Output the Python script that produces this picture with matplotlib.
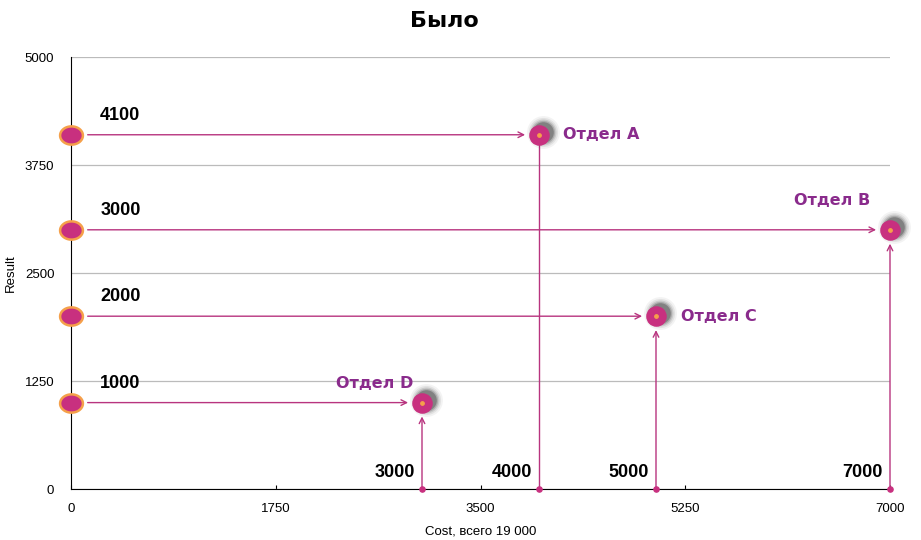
import numpy as np
import matplotlib.pyplot as plt
from matplotlib.path import Path
from matplotlib.transforms import offset_copy

# data
depts = ["Отдел D", "Отдел A", "Отдел C", "Отдел B"]
cost = [3000, 4000, 5000, 7000]
result = [1000, 4100, 2000, 3000]
x_ticks = [0, 1750, 3500, 5250, 7000]
y_ticks = [0, 1250, 2500, 3750, 5000]

MAGENTA = "#c8307f"
LINE = "#b8347f"
PURPLE = "#8a2b8c"
ORANGE = "#f5a04a"

plt.rcParams["font.family"] = ["Liberation Sans", "DejaVu Sans"]

fig = plt.figure(figsize=(9.21, 5.40), dpi=100)
ax = fig.add_axes([71 / 921, 51 / 540, 819 / 921, 432 / 540])
ax.set_xlim(0, 7000)
ax.set_ylim(0, 5000)
ax.set_xticks(x_ticks)
ax.set_yticks(y_ticks)
ax.tick_params(axis="both", labelsize=9.5, length=3, direction="in", colors="black")
ax.tick_params(axis="y", length=0, pad=12)
ax.tick_params(axis="x", pad=10)
for s in ["top", "right"]:
    ax.spines[s].set_visible(False)
ax.yaxis.grid(True, color="#bbbbbb", lw=0.9)
ax.set_axisbelow(True)

ax.set_xlabel("Cost, всего 19 000", fontsize=9.5, labelpad=8)
ax.set_ylabel("Result", fontsize=9.5, labelpad=6)
fig.text(0.482, 0.962, "Было", ha="center", va="center", fontsize=16,
         fontweight="heavy", family="DejaVu Sans")

# ellipse marker for the left side
t = np.linspace(0, 2 * np.pi, 60)
ell = Path(np.column_stack([1.25 * np.cos(t), np.sin(t)]), closed=True)

for name, x, y in zip(depts, cost, result):
    # horizontal arrow from the y axis
    ax.annotate("", xy=(x, y), xytext=(0, y),
                arrowprops=dict(arrowstyle="->", color=LINE, lw=1.0,
                                shrinkA=12, shrinkB=10, mutation_scale=10))
    # vertical line from the x axis
    if x == 4000:
        ax.plot([x, x], [0, y], color=LINE, lw=1.0, zorder=2)
    else:
        ax.annotate("", xy=(x, y), xytext=(x, 0),
                    arrowprops=dict(arrowstyle="->", color=LINE, lw=1.0,
                                    shrinkA=0, shrinkB=10, mutation_scale=10))
    ax.scatter([x], [0], s=14, color=MAGENTA, zorder=4, clip_on=False)

    # left marker
    ax.scatter([0], [y], marker=ell, s=270, color=MAGENTA, edgecolor=ORANGE,
               linewidth=1.8, zorder=5, clip_on=False)
    ax.annotate(f"{y}", xy=(0, y), xytext=(21, 14), textcoords="offset points",
                fontsize=13, fontweight="bold", va="center", ha="left")

    # shadow
    sh = offset_copy(ax.transData, fig=fig, x=3, y=2, units="points")
    for k, a in zip([560, 440, 350, 280, 220], [0.05, 0.08, 0.12, 0.18, 0.3]):
        ax.scatter([x], [y], s=k, color="#222222", alpha=a, lw=0,
                   transform=sh, zorder=5, clip_on=False)
    ax.scatter([x], [y], s=190, color=MAGENTA, zorder=6, clip_on=False)
    ax.scatter([x], [y], s=6, color=ORANGE, zorder=7, clip_on=False)

    # x value label near the axis
    ax.annotate(f"{x}", xy=(x, 0), xytext=(-5, 12), textcoords="offset points",
                fontsize=13, fontweight="bold", ha="right", va="center")

# department labels
label_pos = {
    "Отдел D": dict(xytext=(-6, 14), ha="right"),
    "Отдел A": dict(xytext=(17, 0), ha="left"),
    "Отдел C": dict(xytext=(18, 0), ha="left"),
    "Отдел B": dict(xytext=(-14, 21), ha="right"),
}
for name, x, y in zip(depts, cost, result):
    p = label_pos[name]
    ax.annotate(name, xy=(x, y), xytext=p["xytext"], textcoords="offset points",
                ha=p["ha"], va="center", fontsize=11.5, color=PURPLE,
                fontweight="heavy", family="DejaVu Sans")

fig.savefig("out.png", dpi=100)
